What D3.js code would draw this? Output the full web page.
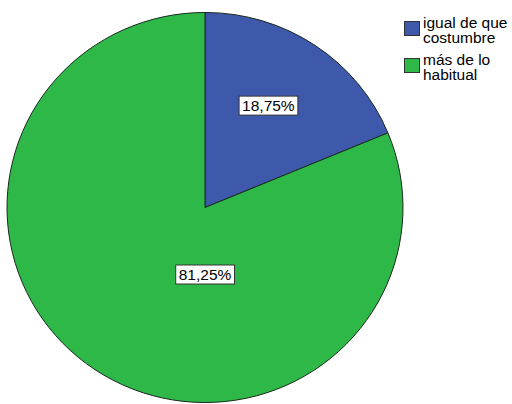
<!DOCTYPE html>
<html><head><meta charset="utf-8">
<script src="https://cdn.jsdelivr.net/npm/d3@7"></script>
<style>body{margin:0;background:#fff}svg{display:block}</style>
</head><body>
<svg id="c" width="512" height="404"></svg>
<script>
const categories = ["igual de que costumbre", "más de lo habitual"];
const legendLines = [["igual de que", "costumbre"], ["más de lo", "habitual"]];
const values = [18.75, 81.25];
const labels = ["18,75%", "81,25%"];
const colors = ["#3E58AC", "#2EB848"];

const svg = d3.select("#c");
const cx = 205, cy = 207.5, r = 198, sy = 0.985;
const g = svg.append("g").attr("transform", `translate(${cx},${cy})`);
const pg = g.append("g").attr("transform", `scale(1,${sy})`);
const pie = d3.pie().sort(null).value(d => d)(values);
const arc = d3.arc().innerRadius(0).outerRadius(r);
pg.selectAll("path").data(pie).enter().append("path")
  .attr("d", arc).attr("fill", (d, i) => colors[i])
  .attr("stroke", "#1a2a20").attr("stroke-width", 1).attr("vector-effect", "non-scaling-stroke");

const labelPos = [
  [r * 0.32, -r * 0.515],
  [0, r * 0.338]
];
labelPos.forEach((p, i) => {
  const lg = g.append("g").attr("transform", `translate(${p[0]},${p[1]})`);
  const t = lg.append("text").text(labels[i])
    .attr("font-family", "Liberation Sans, Arial, sans-serif").attr("font-size", 15.5)
    .attr("text-anchor", "middle").attr("dy", "0.36em").attr("fill", "#000");
  const bb = t.node().getBBox();
  lg.insert("rect", "text").attr("x", bb.x - 3).attr("y", bb.y - 1)
    .attr("width", bb.width + 6).attr("height", bb.height + 2)
    .attr("fill", "#fff").attr("stroke", "#333").attr("stroke-width", 1);
});

const leg = svg.append("g");
const ly = d3.scaleBand().domain(categories).range([21, 95]);
categories.forEach((c, i) => {
  const y0 = ly(c);
  leg.append("rect").attr("x", 404.5).attr("y", y0 + 0.5).attr("width", 15).attr("height", 14)
    .attr("fill", colors[i]).attr("stroke", "#333").attr("stroke-width", 1);
  leg.append("text").attr("x", 423).attr("y", y0 + 7)
    .attr("font-family", "Liberation Sans, Arial, sans-serif").attr("font-size", 15.5).attr("fill", "#000")
    .selectAll("tspan").data(legendLines[i]).enter().append("tspan")
    .attr("x", 423).attr("dy", (d, j) => j === 0 ? 0 : 14.5).text(d => d);
});
</script>
</body></html>
